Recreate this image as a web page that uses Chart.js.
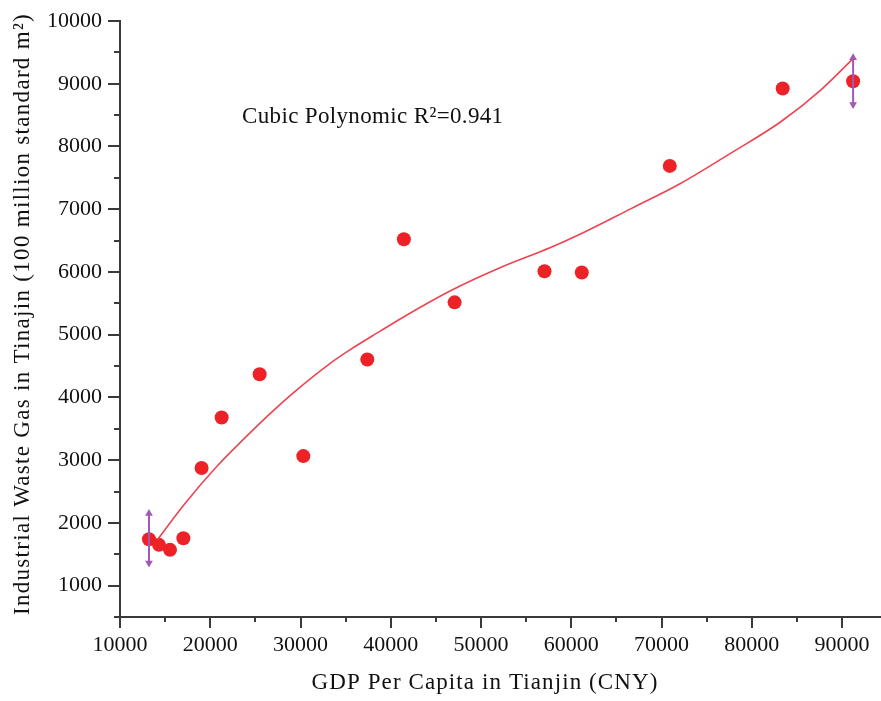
<!DOCTYPE html>
<html>
<head>
<meta charset="utf-8">
<script src="https://cdn.jsdelivr.net/npm/chart.js@4"></script>
<style>
  html, body { margin: 0; padding: 0; background: #fff; }
  #wrap { width: 881px; height: 701px; position: relative; }
</style>
</head>
<body>
<div id="wrap"><canvas id="chart"></canvas></div>
<script>
// GDP per capita (CNY) vs industrial waste gas (100 million standard m2)
const gdpValues = [13210, 14320, 15540, 17020, 19040, 21260, 25470, 30310, 37400, 41450, 47070, 57030, 61160, 70910, 83420, 91220];
const gasValues = [1740, 1650, 1570, 1755, 2875, 3680, 4370, 3065, 4605, 6520, 5515, 6010, 5990, 7690, 8925, 9040];

// cubic fit curve, sampled along its length
const fitX = [14140, 17090, 20790, 23730, 26690, 29460, 33330, 35550, 38870, 41090, 46620, 52160, 57700, 61020, 66560, 72090, 77630, 83170, 87600, 91220];
const fitY = [1730, 2290, 2910, 3340, 3750, 4105, 4548, 4766, 5060, 5255, 5700, 6070, 6390, 6605, 7005, 7410, 7890, 8390, 8895, 9400];

// range bars at both ends of the fit
const barX = [13210, 91220];
const barLow = [1360, 8670];
const barHigh = [2150, 9415];

const xTicks = [10000, 20000, 30000, 40000, 50000, 60000, 70000, 80000, 90000];
const yTicks = [1000, 2000, 3000, 4000, 5000, 6000, 7000, 8000, 9000, 10000];

const fitLabel = 'Cubic Polynomic R\u00B2=0.941';
const xTitle = 'GDP Per Capita in Tianjin (CNY)';
const yTitle = 'Industrial Waste Gas in Tinajin (100 million standard m\u00B2)';

const SERIF = '"Liberation Serif", "Times New Roman", serif';
const AXIS = '#3a3a3a';

function drawText(c, text, x, y, spacing) {
    if ('letterSpacing' in c) c.letterSpacing = spacing + 'px';
    c.fillText(text, x, y);
    if ('letterSpacing' in c) c.letterSpacing = '0px';
}

// ── minor ticks + free text ──
const extras = {
    id: 'extras',
    afterDraw(chart) {
        const c = chart.ctx;
        const xs = chart.scales.x, ys = chart.scales.y;
        const area = chart.chartArea;
        c.save();
        c.strokeStyle = AXIS;
        c.lineWidth = 2;
        c.beginPath();
        xTicks.forEach(t => {
            const v = t + 5000;
            if (v > xs.max) return;
            const px = Math.round(xs.getPixelForValue(v));
            c.moveTo(px, area.bottom);
            c.lineTo(px, area.bottom + 5);
        });
        [ys.min].concat(yTicks.map(t => t + 500)).forEach(v => {
            if (v >= ys.max) return;
            const py = Math.round(ys.getPixelForValue(v));
            c.moveTo(area.left, py);
            c.lineTo(area.left - 6, py);
        });
        c.stroke();

        c.fillStyle = '#111';
        c.font = '23px ' + SERIF;
        c.textBaseline = 'middle';
        c.textAlign = 'left';
        drawText(c, fitLabel, 242, 117, 0.35);

        c.textAlign = 'center';
        drawText(c, xTitle, 485, 683, 1.1);

        c.translate(23, 314);
        c.rotate(-Math.PI / 2);
        drawText(c, yTitle, 0, 0, 1.3);
        c.restore();
    }
};

function barData(i) {
    return [{ x: barX[i], y: barLow[i] }, { x: barX[i], y: barHigh[i] }];
}

const purple = '#a05ab4';
const barStyle = {
    showLine: true,
    borderColor: purple,
    borderWidth: 2,
    backgroundColor: purple,
    pointStyle: 'triangle',
    pointRadius: 4.5,
    rotation: [180, 0],
    pointBorderWidth: 0
};

new Chart(document.getElementById('chart'), {
    type: 'scatter',
    data: {
        datasets: [
            Object.assign({ label: 'range low', data: barData(0) }, barStyle),
            Object.assign({ label: 'range high', data: barData(1) }, barStyle),
            {
                label: 'fit',
                data: fitX.map((x, i) => ({ x, y: fitY[i] })),
                showLine: true,
                borderColor: '#ee4452',
                borderWidth: 1.6,
                pointRadius: 0,
                cubicInterpolationMode: 'monotone'
            },
            {
                label: 'observed',
                data: gdpValues.map((x, i) => ({ x, y: gasValues[i] })),
                backgroundColor: '#ec2226',
                borderColor: '#ec2226',
                pointRadius: 7,
                pointBorderWidth: 0
            }
        ]
    },
    options: {
        responsive: true,
        maintainAspectRatio: false,
        animation: false,
        layout: { autoPadding: false, padding: { top: 21, right: 1, left: 0, bottom: 0 } },
        scales: {
            x: {
                type: 'linear',
                min: 10000, max: 94200,
                afterFit: s => { s.height = 84; },
                afterBuildTicks: s => { s.ticks = xTicks.map(value => ({ value })); },
                border: { display: true, color: AXIS, width: 2 },
                grid: { display: true, drawOnChartArea: false, drawTicks: true, tickLength: 11, color: AXIS, lineWidth: 2 },
                ticks: {
                    autoSkip: false,
                    maxRotation: 0,
                    padding: 4,
                    color: '#111',
                    font: { family: SERIF, size: 22 },
                    callback: v => String(v)
                }
            },
            y: {
                type: 'linear',
                min: 500, max: 10000,
                afterFit: s => { s.width = 120; },
                afterBuildTicks: s => { s.ticks = yTicks.map(value => ({ value })); },
                border: { display: true, color: AXIS, width: 2 },
                grid: { display: true, drawOnChartArea: false, drawTicks: true, tickLength: 12, color: AXIS, lineWidth: 2 },
                ticks: {
                    autoSkip: false,
                    padding: 6,
                    color: '#111',
                    font: { family: SERIF, size: 22 },
                    callback: v => String(v)
                }
            }
        },
        plugins: {
            legend: { display: false },
            tooltip: { enabled: false }
        }
    },
    plugins: [extras]
});
</script>
</body>
</html>
